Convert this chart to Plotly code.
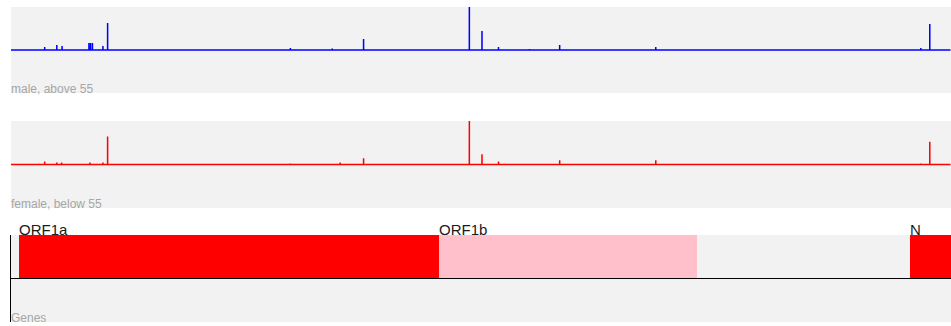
import numpy as np
import plotly.graph_objects as go

# Genome coordinate span shown on the shared x axis
GENOME_END = 29533

TRACK_NAMES = ["male, above 55", "female, below 55", "Genes"]

# Mutation sites (genome position) and counts for each group
MALE_SITES = [
    313, 490, 700, 884, 1059, 1191, 1440, 1605, 1820, 2113, 2450, 2500, 2560,
    2890, 3037, 3177, 3373, 3602, 4002, 4354, 4809, 5062, 5388, 5700, 6040,
    6312, 6573, 6941, 7284, 7540, 7765, 8083, 8386, 8782, 9286, 9526, 9802,
    10097, 10319, 10582, 10870, 11083, 11287, 11620, 11916, 12207, 12525,
    12880, 13218, 13536, 13860, 14178, 14408, 14805, 15000, 15324, 15720,
    15952, 16300, 16681, 17011, 17247, 17514, 17858, 18060, 18312, 18555,
    18877, 19170, 19480, 19839, 20040, 20268, 20540, 20883, 21137, 21300,
    21487, 28311, 28378, 28512, 28600, 28657, 28725, 28854, 28881, 28932,
    29034, 29188, 29301, 29402, 29480,
]
MALE_COUNTS = [
    1, 1, 1, 1, 6, 1, 10, 8, 1, 1, 14, 14, 14,
    8, 54, 1, 1, 1, 1, 1, 1, 1, 1, 1, 1,
    1, 1, 1, 1, 1, 1, 1, 1, 4, 1, 1, 1,
    3, 1, 1, 1, 22, 1, 1, 1, 1, 1,
    1, 1, 1, 1, 1, 86, 38, 1, 6, 1,
    1, 2, 1, 1, 10, 1, 1, 1, 1, 1,
    1, 1, 1, 1, 1, 6, 1, 1, 1, 1,
    1, 1, 1, 1, 4, 1, 1, 1, 52, 1,
    1, 1, 1, 1, 1,
]

FEMALE_SITES = [
    241, 445, 650, 913, 1059, 1260, 1440, 1590, 1875, 2160, 2480, 2890, 3037,
    3256, 3470, 3712, 4084, 4415, 4750, 5120, 5444, 5780, 6096, 6402, 6688,
    7010, 7329, 7612, 7890, 8170, 8485, 8782, 9110, 9402, 9711, 10010, 10347,
    10650, 10930, 11083, 11350, 11700, 12010, 12330, 12640, 12990, 13300,
    13620, 13950, 14250, 14408, 14805, 15090, 15324, 15610, 15900, 16210,
    16540, 16860, 17180, 17247, 17560, 17900, 18200, 18490, 18790, 19100,
    19420, 19750, 20080, 20268, 20600, 20920, 21200, 21420, 28330, 28420,
    28560, 28600, 28700, 28790, 28881, 28990, 29120, 29250, 29360, 29470,
]
FEMALE_COUNTS = [
    1, 1, 1, 1, 6, 1, 4, 4, 1, 1, 4, 4, 54,
    1, 1, 1, 1, 1, 1, 1, 1, 1, 1, 1, 1,
    1, 1, 1, 1, 1, 1, 2, 1, 1, 1, 1, 4,
    1, 1, 12, 1, 1, 1, 1, 1, 1, 1,
    1, 1, 1, 84, 20, 1, 6, 1, 1, 1,
    1, 1, 1, 8, 1, 1, 1, 1, 1, 1,
    1, 1, 1, 8, 1, 1, 1, 1, 1, 1,
    1, 2, 1, 1, 44, 1, 1, 1, 1, 1,
]

# Gene annotation track
GENE_NAMES = ["ORF1a", "ORF1b", "N"]
GENE_STARTS = [266, 13468, 28274]
GENE_ENDS = [13483, 21555, 29533]
GENE_COLORS = ["#ff0000", "#ffc0cb", "#ff0000"]

positions = np.arange(0, GENOME_END + 1)


def profile(sites, counts):
    """Per-base count profile: zero everywhere except at mutation sites."""
    y = np.zeros(positions.size)
    y[np.asarray(sites)] = np.asarray(counts, dtype=float)
    return y


male_y = profile(MALE_SITES, MALE_COUNTS)
female_y = profile(FEMALE_SITES, FEMALE_COUNTS)

fig = go.Figure()

fig.add_trace(go.Scatter(
    x=positions, y=male_y, mode="lines",
    line=dict(color="#0000ff", width=1.5, simplify=False),
    xaxis="x", yaxis="y", hoverinfo="skip", showlegend=False,
))
fig.add_trace(go.Scatter(
    x=positions, y=female_y, mode="lines",
    line=dict(color="#ff0000", width=1.5, simplify=False),
    xaxis="x2", yaxis="y2", hoverinfo="skip", showlegend=False,
))

starts = np.array(GENE_STARTS)
ends = np.array(GENE_ENDS)
fig.add_trace(go.Bar(
    orientation="h",
    y=[0.5] * len(GENE_NAMES), base=starts, x=ends - starts, width=1,
    marker=dict(color=GENE_COLORS, line=dict(width=0)),
    xaxis="x3", yaxis="y3", hoverinfo="skip", showlegend=False,
))

H = 326.0


def dom(top_px, bottom_px):
    return [1 - bottom_px / H, 1 - top_px / H]


xr = [0, GENOME_END + 15]
hidden_x = dict(range=xr, showgrid=False, zeroline=False, showticklabels=False,
                showline=False, ticks="", domain=[0, 1], fixedrange=True)

male_max = max(MALE_COUNTS)
female_max = max(FEMALE_COUNTS)

fig.update_layout(
    width=951, height=326,
    margin=dict(l=11, r=0, t=0, b=0, autoexpand=False),
    paper_bgcolor="#ffffff",
    plot_bgcolor="#f2f2f2",
    bargap=0,
    font=dict(family="Arial, Liberation Sans, sans-serif"),
    xaxis=dict(hidden_x, anchor="y"),
    xaxis2=dict(hidden_x, anchor="y2", matches="x"),
    xaxis3=dict(hidden_x, anchor="y3", matches="x"),
    yaxis=dict(domain=dom(7, 93), range=[-male_max, male_max], showgrid=False,
               zeroline=False, showticklabels=False, ticks="", anchor="x"),
    yaxis2=dict(domain=dom(121, 208), range=[-female_max, female_max],
                showgrid=False, zeroline=False, showticklabels=False,
                ticks="", anchor="x2"),
    yaxis3=dict(domain=dom(235, 322), range=[-1, 1], showgrid=False,
                zeroline=True, zerolinecolor="#000000", zerolinewidth=1.2,
                showline=True, linecolor="#000000", linewidth=1,
                showticklabels=False, ticks="", anchor="x3"),
)

# Keep the gene track's baseline visible beneath the bars' lower edge
try:
    fig.update_layout(yaxis3_zerolinelayer="above traces")
except (ValueError, AttributeError):
    pass

# Track captions in the lower-left corner of each panel
for name, yref in zip(TRACK_NAMES, ["y domain", "y2 domain", "y3 domain"]):
    fig.add_annotation(
        text=name, xref="paper", x=0, yref=yref, y=0,
        xanchor="left", yanchor="bottom", showarrow=False,
        xshift=-2, yshift=-5,
        font=dict(size=12, color="#a6a6a6"),
    )

# Gene names sitting on top of their bars
for name, start in zip(GENE_NAMES, GENE_STARTS):
    fig.add_annotation(
        text=name, xref="x3", x=start, yref="y3", y=1,
        xanchor="left", yanchor="bottom", showarrow=False,
        xshift=-2, yshift=-5,
        font=dict(size=15, color="#1a1a1a"),
    )

fig.write_html("out.html")
